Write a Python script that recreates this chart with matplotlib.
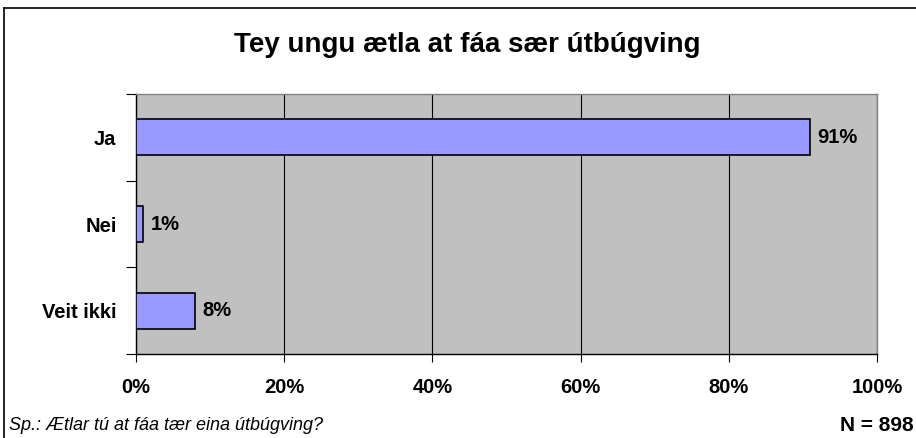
import matplotlib
matplotlib.use("Agg")
import matplotlib.pyplot as plt
from matplotlib.lines import Line2D

categories = ["Ja", "Nei", "Veit ikki"]
values = [91, 1, 8]
value_labels = ["91%", "1%", "8%"]
xticks = [0, 20, 40, 60, 80, 100]
xtick_labels = ["0%", "20%", "40%", "60%", "80%", "100%"]
title = "Tey ungu ætla at fáa sær útbúgving"
footnote = "Sp.: Ætlar tú at fáa tær eina útbúgving?"
n_text = "N = 898"

plt.rcParams['font.family'] = ['Liberation Sans', 'DejaVu Sans']

fig = plt.figure(figsize=(9.16, 4.38), dpi=100)
fig.patch.set_facecolor('white')
ax = fig.add_axes([136/916, 1-354/438, (877-136)/916, (354-94)/438])
ax.set_facecolor('#C0C0C0')

ypos = list(range(len(categories)))
ax.barh(ypos, values, height=0.415, color='#9999FF', edgecolor='black', linewidth=1.2, zorder=3)
for y, v, lab in zip(ypos, values, value_labels):
    ax.annotate(lab, (v, y), xytext=(5, 0), textcoords='offset points',
                va='center', ha='left', fontsize=14.5, fontweight='bold', zorder=4)

ax.set_xlim(0, 100)
ax.set_ylim(2.5, -0.5)
ax.set_xticks(xticks)
ax.set_xticklabels(xtick_labels, fontsize=14.5, fontweight='bold')
ax.set_yticks(ypos)
ax.set_yticklabels(categories, fontsize=14.5, fontweight='bold')
ax.tick_params(axis='y', length=0, pad=14)
ax.tick_params(axis='x', length=6, width=0.8, pad=11, direction='out')
ax.set_yticks([-0.5, 0.5, 1.5, 2.5], minor=True)
ax.tick_params(axis='y', which='minor', length=7, width=0.8, direction='out')
ax.grid(axis='x', color='black', linewidth=0.8, zorder=1)
ax.set_axisbelow(True)
for s in ['top', 'right']:
    ax.spines[s].set_color('#808080')
    ax.spines[s].set_linewidth(1.0)
for s in ['left', 'bottom']:
    ax.spines[s].set_color('black')
    ax.spines[s].set_linewidth(1.0)

fig.text(467/916, 1-52/438, title, ha='center', va='baseline', fontsize=20, fontweight='bold')
fig.text(9/916, 1-430/438, footnote, ha='left', va='baseline', fontsize=13, style='italic')
fig.text(914/916, 1-431/438, n_text, ha='right', va='baseline', fontsize=15, fontweight='bold')

fig.add_artist(Line2D([4/916, 4/916], [0, 1-8/438], color='black', linewidth=1.2, transform=fig.transFigure))
fig.add_artist(Line2D([4/916, 1], [1-8/438, 1-8/438], color='black', linewidth=1.2, transform=fig.transFigure))

fig.savefig("out.png", dpi=100)
